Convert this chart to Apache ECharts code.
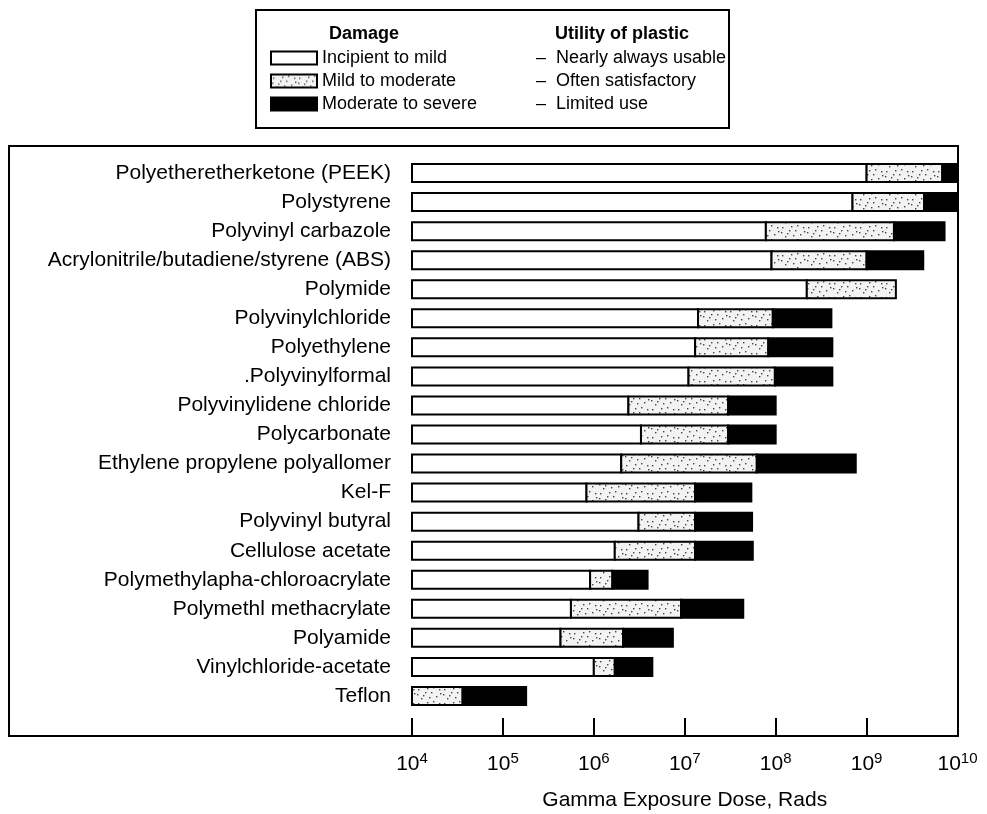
<!DOCTYPE html>
<html><head><meta charset="utf-8">
<script src="https://cdn.jsdelivr.net/npm/echarts@6/dist/echarts.min.js"></script>
<style>html,body{margin:0;padding:0;background:#fff}#c{width:987px;height:814px}</style>
</head><body><div id="c"></div>
<script>
const categories = [
  'Polyetheretherketone (PEEK)', 'Polystyrene', 'Polyvinyl carbazole',
  'Acrylonitrile/butadiene/styrene (ABS)', 'Polymide', 'Polyvinylchloride',
  'Polyethylene', '.Polyvinylformal', 'Polyvinylidene chloride', 'Polycarbonate',
  'Ethylene propylene polyallomer', 'Kel-F', 'Polyvinyl butyral', 'Cellulose acetate',
  'Polymethylapha-chloroacrylate', 'Polymethl methacrylate', 'Polyamide',
  'Vinylchloride-acetate', 'Teflon'
];
const doseStart = 1e4;
const incipientEnd = [1.0e9, 7.0e8, 7.8e7, 9.0e7, 2.2e8, 1.4e7, 1.3e7, 1.1e7, 2.4e6, 3.3e6,
  2.0e6, 8.3e5, 3.1e6, 1.7e6, 9.1e5, 5.6e5, 4.3e5, 1.0e6, 1.0e4];
const mildEnd = [6.8e9, 4.3e9, 2.0e9, 1.0e9, 2.1e9, 9.3e7, 8.3e7, 9.8e7, 3.0e7, 3.0e7,
  6.2e7, 1.3e7, 1.3e7, 1.3e7, 1.6e6, 9.1e6, 2.1e6, 1.7e6, 3.6e4];
const severeEnd = [1.0e10, 1.0e10, 7.2e9, 4.2e9, 2.1e9, 4.1e8, 4.2e8, 4.2e8, 1.0e8, 1.0e8,
  7.6e8, 5.4e7, 5.5e7, 5.6e7, 3.9e6, 4.4e7, 7.4e6, 4.4e6, 1.8e5];
const damageLevels = ['Incipient to mild', 'Mild to moderate', 'Moderate to severe'];
const utilityLevels = ['Nearly always usable', 'Often satisfactory', 'Limited use'];
const xMin = 1e4, xMax = 1e10;

const FONT = '"Liberation Sans", Arial, Helvetica, sans-serif';

function makeSpeckle() {
  const c = document.createElement('canvas');
  c.width = 26; c.height = 14;
  const g = c.getContext('2d');
  g.fillStyle = '#f3f3f3'; g.fillRect(0, 0, 26, 14);
  g.fillStyle = '#444';
  const dots = [[2,3],[7,9],[11,2],[15,6],[20,10],[23,3],[5,12],[17,1],[9,6],[13,11],[24,7],[1,8]];
  dots.forEach(function (d) { g.fillRect(d[0], d[1], 1.4, 1.4); });
  return c;
}
const speckle = { image: makeSpeckle(), repeat: 'repeat' };
const fills = ['#ffffff', speckle, '#000000'];

const starts = [categories.map(function () { return doseStart; }), incipientEnd, mildEnd];
const ends = [incipientEnd, mildEnd, severeEnd];

const BAR_H = 18;
function renderSeg(params, api) {
  const i = api.value(0), s = api.value(1), e = api.value(2);
  if (!(e > s)) return null;
  const p0 = api.coord([s, i]);
  const p1 = api.coord([e, i]);
  return {
    type: 'rect',
    shape: { x: p0[0], y: p0[1] - BAR_H / 2, width: p1[0] - p0[0], height: BAR_H },
    style: { fill: fills[params.seriesIndex], stroke: '#000', lineWidth: 2 }
  };
}

const series = damageLevels.map(function (name, k) {
  return {
    type: 'custom', name: name,
    renderItem: renderSeg,
    encode: { x: [1, 2], y: 0 },
    itemStyle: { color: fills[k], borderColor: '#000', borderWidth: 2 },
    data: categories.map(function (c, i) { return [i, starts[k][i], ends[k][i]]; })
  };
});

const chart = echarts.init(document.getElementById('c'), null, { renderer: 'canvas' });
chart.setOption({
  animation: false,
  backgroundColor: '#fff',
  textStyle: { fontFamily: FONT, color: '#000' },
  grid: { left: 412, right: 29.5, top: 158.5, bottom: 103.5, containLabel: false, outerBoundsMode: 'none' },
  xAxis: {
    type: 'log', logBase: 10, min: xMin, max: xMax, splitNumber: 6,
    position: 'bottom', offset: 25.5,
    axisLine: { show: false },
    axisTick: { show: true, inside: true, length: 18, lineStyle: { color: '#000', width: 2 } },
    splitLine: { show: false },
    axisLabel: {
      margin: 15,
      formatter: function (v) {
        const ex = Math.round(Math.log10(v));
        return '{b|10}{s|' + ex + '}';
      },
      rich: {
        b: { fontSize: 21, fontFamily: FONT, color: '#000', lineHeight: 24, verticalAlign: 'bottom' },
        s: { fontSize: 15, fontFamily: FONT, color: '#000', lineHeight: 14, verticalAlign: 'top' }
      }
    },
    name: 'Gamma Exposure Dose, Rads', nameLocation: 'middle', nameGap: 54,
    nameTextStyle: { fontSize: 21, color: '#000', fontFamily: FONT }
  },
  yAxis: {
    type: 'category', data: categories, inverse: true,
    axisLine: { show: false }, axisTick: { show: false },
    axisLabel: { fontSize: 21, color: '#000', margin: 21, fontFamily: FONT }
  },
  legend: {
    orient: 'vertical', left: 270, top: 49, padding: 0,
    itemWidth: 46, itemHeight: 13, itemGap: 5,
    selectedMode: false,
    data: damageLevels.map(function (n, k) {
      return { name: n, icon: 'rect', itemStyle: { color: fills[k], borderColor: '#000', borderWidth: 2 } };
    }),
    formatter: function (name) {
      const k = damageLevels.indexOf(name);
      return '{n|' + name + '}{d|–}{u|' + utilityLevels[k] + '}';
    },
    textStyle: {
      rich: {
        n: { fontSize: 18, fontFamily: FONT, color: '#000', width: 214 },
        d: { fontSize: 18, fontFamily: FONT, color: '#000', width: 20 },
        u: { fontSize: 18, fontFamily: FONT, color: '#000' }
      }
    }
  },
  graphic: [
    { type: 'rect', shape: { x: 9, y: 146, width: 949, height: 590 }, style: { fill: 'none', stroke: '#000', lineWidth: 2 }, z: 10 },
    { type: 'rect', shape: { x: 256, y: 10, width: 473, height: 118 }, style: { fill: 'none', stroke: '#000', lineWidth: 2 }, z: 10 },
    { type: 'text', left: 329, top: 25, style: { text: 'Damage', font: 'bold 18px ' + FONT, fill: '#000' } },
    { type: 'text', left: 555, top: 25, style: { text: 'Utility of plastic', font: 'bold 18px ' + FONT, fill: '#000' } }
  ],
  series: series
});
</script>
</body></html>
